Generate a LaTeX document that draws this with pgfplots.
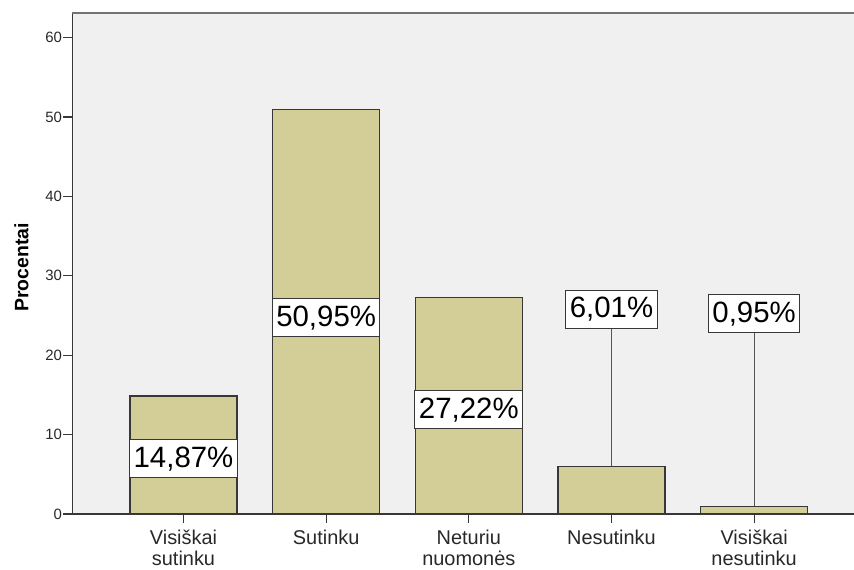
\documentclass[border=0pt]{standalone}
\usepackage{fontspec}
\setmainfont{Liberation Sans}
\usepackage{pgfplots}
\pgfplotsset{compat=1.18}
\definecolor{barfill}{RGB}{211,206,152}
\definecolor{bg}{RGB}{240,240,240}
\definecolor{edge}{RGB}{55,55,55}
\definecolor{txt}{RGB}{40,40,40}
\begin{document}
\begin{tikzpicture}
\begin{axis}[
  name=ax,
  scale only axis, width=781.5bp, height=501bp,
  xmin=-0.778, xmax=4.70, ymin=0, ymax=63.1,
  axis x line*=bottom, axis y line*=left,
  axis background/.style={fill=bg},
  clip=false,
  xtick={0,1,2,3,4},
  xticklabels={Visiškai\\sutinku, Sutinku, Neturiu\\nuomonės, Nesutinku, Visiškai\\nesutinku},
  xticklabel style={align=center, font=\fontsize{20}{20.5}\selectfont, text=txt, yshift=-6bp, inner sep=1bp},
  ytick={0,10,20,30,40,50,60},
  yticklabel style={font=\fontsize{15}{15}\selectfont, text=txt, xshift=2bp},
  /pgf/number format/assume math mode=true,
  tick align=outside, major tick length=9bp,
  tick style={edge, line width=1.2bp},
  axis line style={edge, line width=1.2bp},
  ylabel={Procentai},
  ylabel style={at={(axis description cs:-0.0518,0.492)}, anchor=south, font=\fontsize{19.5}{20}\selectfont\bfseries},
]
\draw[color=gray!90!black, line width=2bp] (rel axis cs:0,1) -- (rel axis cs:1,1);
\addplot[ycomb, draw=edge!85, line width=1.2bp, mark=none] coordinates {(3,25.8) (4,25.2)};
\addplot[ybar, bar width=0.75, fill=barfill, draw=edge, line width=1.2bp] coordinates {(0,14.87) (1,50.95) (2,27.22) (3,6.01) (4,0.95)};
\addplot[only marks, mark=none, point meta=explicit symbolic, nodes near coords,
  nodes near coords style={anchor=center, fill=white, draw=edge, line width=1bp, inner xsep=4bp, inner ysep=0bp, minimum height=38bp, font=\fontsize{29.5}{30}\selectfont, text=black}]
  coordinates {(0,6.93) [14,87\%] (1,24.7) [50,95\%] (2,13.1) [27,22\%] (3,25.8) [6,01\%] (4,25.2) [0,95\%]};
\end{axis}
\pgfresetboundingbox
\path[use as bounding box] ([shift={(-72.5bp,-56bp)}]ax.south west) rectangle ([shift={(781.5bp,514bp)}]ax.south west);
\end{tikzpicture}
\end{document}
